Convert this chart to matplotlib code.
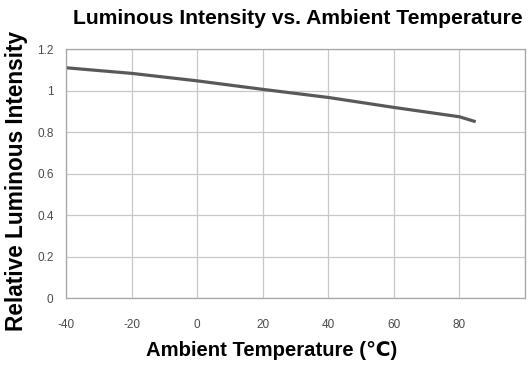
import numpy as np
import matplotlib.pyplot as plt

plt.rcParams['font.family'] = ['Liberation Sans', 'DejaVu Sans']

temp = np.array([-40, -20, 0, 20, 40, 60, 80, 85])
intensity = np.array([1.11, 1.083, 1.047, 1.006, 0.967, 0.919, 0.874, 0.85])

fig = plt.figure(figsize=(5.28, 3.69), dpi=100)
ax = fig.add_axes([0.125, 0.192, 0.869, 0.675])

ax.plot(temp, intensity, color='#595959', lw=2.3, solid_capstyle='butt')

ax.set_xlim(-40, 100)
ax.set_ylim(0, 1.2)
ax.set_xticks([-40, -20, 0, 20, 40, 60, 80, 100])
ax.set_xticklabels(['-40', '-20', '0', '20', '40', '60', '80', ''])
ax.set_yticks([0, 0.2, 0.4, 0.6, 0.8, 1.0, 1.2])
ax.set_yticklabels(['0', '0.2', '0.4', '0.6', '0.8', '1', '1.2'])
ax.grid(True, color='#c8c8c8', lw=0.9)
ax.tick_params(length=0, labelsize=8.5, colors='#4a4a4a', pad=9)
ax.tick_params(axis='x', pad=15)
for s in ax.spines.values():
    s.set_color('#a6a6a6')
    s.set_linewidth(0.9)

fig.text(298 / 528, 1 - 19 / 369, 'Luminous Intensity vs. Ambient Temperature',
         fontsize=15.2, fontweight='bold', ha='center', va='center')
fig.text(272 / 528, 1 - 351 / 369, 'Ambient Temperature (\u2103)',
         fontsize=14.6, fontweight='bold', ha='center', va='center')
fig.text(17 / 528, 1 - 181 / 369, 'Relative Luminous Intensity',
         fontsize=16.3, fontweight='bold', ha='center', va='center', rotation=90)

fig.savefig('out.png', dpi=100)
